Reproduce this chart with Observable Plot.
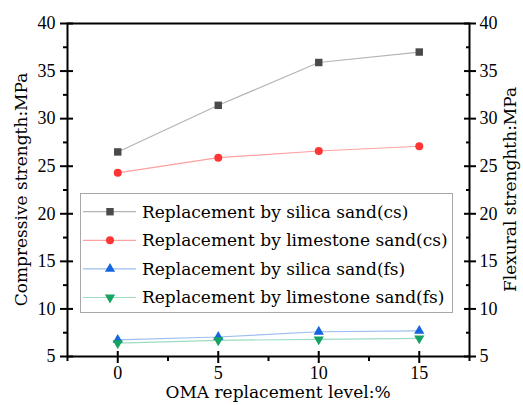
<!DOCTYPE html>
<html>
<head>
<meta charset="utf-8">
<script src="https://cdn.jsdelivr.net/npm/d3@7"></script>
<script src="https://cdn.jsdelivr.net/npm/@observablehq/plot@0.6"></script>
<style>
  html, body { margin: 0; padding: 0; background: white; }
  #chart { position: relative; width: 523px; height: 405px; }
</style>
</head>
<body>
<div id="chart"></div>
<script>
// ---- data ----
const levels = [0, 5, 10, 15];
const silicaCS = [26.5, 31.4, 35.9, 37.0];
const limeCS = [24.3, 25.9, 26.6, 27.1];
const silicaFS = [6.75, 7.05, 7.6, 7.7];
const limeFS = [6.4, 6.7, 6.8, 6.9];
const seriesNames = [
  "Replacement by silica sand(cs)",
  "Replacement by limestone sand(cs)",
  "Replacement by silica sand(fs)",
  "Replacement by limestone sand(fs)"
];
const xTicks = [0, 5, 10, 15];
const xMinor = [-2.5, 2.5, 7.5, 12.5, 17.5];
const yTicks = [5, 10, 15, 20, 25, 30, 35, 40];
const yMinor = [7.5, 12.5, 17.5, 22.5, 27.5, 32.5, 37.5];

const styles = [
  {symbol: "square", r: 4.2, rotate: 0, fill: "#4a4a4a", line: "#b4b4b4"},
  {symbol: "circle", r: 4, rotate: 0, fill: "#ff3535", line: "#ffa0a0"},
  {symbol: "triangle", r: 3.8, rotate: 0, fill: "#1565e0", line: "#9cbef0"},
  {symbol: "triangle", r: 3.8, rotate: 180, fill: "#16a362", line: "#9ddcc0"}
];
const allSeries = [silicaCS, limeCS, silicaFS, limeFS];
const rows = allSeries.flatMap((vals, i) => levels.map((x, j) => ({x, y: vals[j], s: i})));

const tickFont = "'Liberation Serif', serif";
const textFont = "'DejaVu Serif', serif";
const textSize = 17;
const W = 523, H = 405;
const mL = 67, mR = 54, mT = 23, mB = 49;

const marks = [];
styles.forEach((st, i) => {
  const d = rows.filter(r => r.s === i);
  marks.push(Plot.line(d, {x: "x", y: "y", stroke: st.line, strokeWidth: 1.2}));
});
styles.forEach((st, i) => {
  const d = rows.filter(r => r.s === i);
  marks.push(Plot.dot(d, {x: "x", y: "y", symbol: st.symbol, r: st.r, rotate: st.rotate, fill: st.fill, stroke: "none"}));
});

const none = () => "";
const chart = Plot.plot({
  width: W, height: H,
  marginLeft: mL, marginRight: mR, marginTop: mT, marginBottom: mB,
  x: {domain: [-2.5, 17.5]},
  y: {domain: [5, 40]},
  style: {fontFamily: tickFont, fontSize: "18px", color: "black", background: "white"},
  marks: [
    ...marks,
    // left axis
    Plot.axisY({anchor: "left", ticks: yTicks, tickSize: 7, tickPadding: 5, strokeWidth: 2, label: null, fontSize: 18}),
    Plot.axisY({anchor: "left", ticks: yTicks, tickSize: 6, dx: 6, tickFormat: none, strokeWidth: 2, label: null}),
    Plot.axisY({anchor: "left", ticks: yMinor, tickSize: 4, tickFormat: none, strokeWidth: 2, label: null}),
    // right axis
    Plot.axisY({anchor: "right", ticks: yTicks, tickSize: 6, tickPadding: 4, strokeWidth: 2, label: null, fontSize: 18}),
    Plot.axisY({anchor: "right", ticks: yTicks, tickSize: 6, dx: -6, tickFormat: none, strokeWidth: 2, label: null}),
    Plot.axisY({anchor: "right", ticks: yMinor, tickSize: 4, dx: -4, tickFormat: none, strokeWidth: 2, label: null}),
    // bottom axis
    Plot.axisX({anchor: "bottom", ticks: xTicks, tickSize: 7, tickPadding: 3, strokeWidth: 2, label: null, fontSize: 18}),
    Plot.axisX({anchor: "bottom", ticks: xTicks, tickSize: 5, dy: -5, tickFormat: none, strokeWidth: 2, label: null}),
    Plot.axisX({anchor: "bottom", ticks: xMinor, tickSize: 5, tickFormat: none, strokeWidth: 2, label: null}),
    Plot.frame({stroke: "black", strokeWidth: 2})
  ]
});
document.getElementById("chart").appendChild(chart);

// ---- titles and legend ----
const svg = d3.select(chart);
const g = svg.append("g").attr("font-family", textFont).attr("fill", "black");
g.append("text").attr("x", 278).attr("y", 398).attr("text-anchor", "middle").attr("font-size", textSize)
  .text("OMA replacement level:%");
g.append("text").attr("transform", `translate(27,${(mT + H - mB) / 2}) rotate(-90)`)
  .attr("text-anchor", "middle").attr("font-size", textSize).text("Compressive strength:MPa");
g.append("text").attr("transform", `translate(516,${(mT + H - mB) / 2}) rotate(-90)`)
  .attr("text-anchor", "middle").attr("font-size", textSize).text("Flexural strenghth:MPa");

const lg = svg.append("g").attr("font-family", textFont).attr("text-anchor", "start");
lg.append("rect").attr("x", 80.5).attr("y", 193.5).attr("width", 372).attr("height", 119)
  .attr("fill", "white").attr("stroke", "#a8a8a8").attr("stroke-width", 1);
const symMap = {square: d3.symbolSquare, circle: d3.symbolCircle, triangle: d3.symbolTriangle};
styles.forEach((st, i) => {
  const cy = 211.7 + i * 28.6;
  lg.append("line").attr("x1", 83).attr("x2", 136).attr("y1", cy).attr("y2", cy)
    .attr("stroke", st.line).attr("stroke-width", 1.2);
  lg.append("path").attr("d", d3.symbol(symMap[st.symbol], Math.PI * st.r * st.r)())
    .attr("transform", `translate(110,${cy}) rotate(${st.rotate})`).attr("fill", st.fill);
  lg.append("text").attr("x", 142).attr("y", cy).attr("dy", "0.35em").attr("font-size", textSize)
    .attr("text-anchor", "start").attr("fill", "black").text(seriesNames[i]);
});
</script>
</body>
</html>
